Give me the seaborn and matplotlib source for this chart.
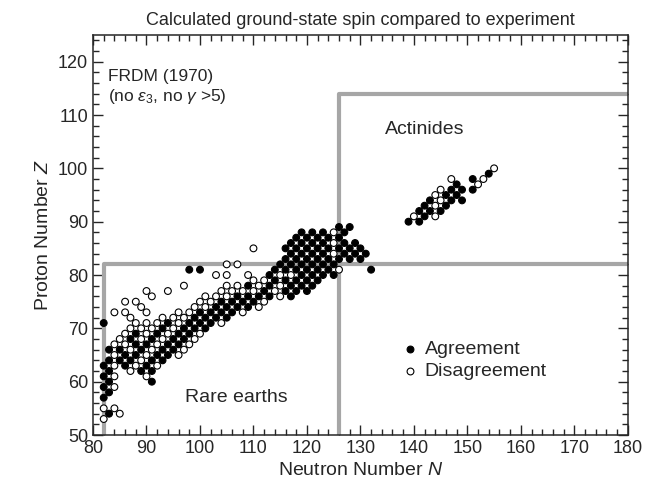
import matplotlib
matplotlib.use('Agg')
import matplotlib.pyplot as plt
import seaborn as sns
import pandas as pd
from matplotlib.ticker import MultipleLocator

# odd-A nuclei, one row of neutron numbers per proton number Z
# agreement (filled)
agree_rows = [
    (54, [83]),
    (57, [82]),
    (58, [83]),
    (59, [82]),
    (60, [83, 91]),
    (61, [82]),
    (62, [83, 89, 91]),
    (63, [82, 86, 90]),
    (64, [83, 85, 87, 91, 93]),
    (65, [86, 88, 92, 94]),
    (66, [83, 85, 89, 93, 95]),
    (67, [88, 90, 94, 96]),
    (68, [87, 91, 95, 97]),
    (69, [88, 92, 96, 98]),
    (70, [93, 97, 99, 101]),
    (71, [82, 94, 98, 100, 102]),
    (72, [99, 101, 103, 105]),
    (73, [100, 102, 104, 106]),
    (74, [103, 105, 107, 109]),
    (75, [104, 106, 108, 110]),
    (76, [107, 109, 111, 113, 117]),
    (77, [112, 116, 118, 120]),
    (78, [109, 113, 117, 119, 121]),
    (79, [114, 116, 118, 120, 122]),
    (80, [113, 119, 121, 123, 125]),
    (81, [98, 100, 114, 116, 118, 120, 122, 124, 132]),
    (82, [115, 117, 119, 121, 123, 125]),
    (83, [116, 118, 120, 122, 124, 126, 128, 130]),
    (84, [117, 119, 121, 123, 127, 129, 131]),
    (85, [116, 118, 120, 122, 124, 126, 128, 130]),
    (86, [117, 119, 121, 123, 127, 129]),
    (87, [118, 120, 122, 124, 126]),
    (88, [119, 121, 123, 127]),
    (89, [126, 128]),
    (90, [139, 141]),
    (91, [142]),
    (92, [141, 143, 145]),
    (93, [142, 146]),
    (94, [143, 147, 149]),
    (95, [146, 148]),
    (96, [147, 149, 151]),
    (97, [148]),
    (98, [151]),
    (99, [154]),
]
# disagreement (open)
disagree_rows = [
    (53, [82]),
    (54, [85]),
    (55, [82, 84]),
    (59, [84]),
    (61, [84, 90]),
    (62, [87]),
    (63, [84, 88, 92]),
    (64, [89]),
    (65, [84, 90, 96]),
    (66, [87, 91, 97]),
    (67, [84, 86, 92, 98]),
    (68, [85, 89, 93, 99]),
    (69, [86, 90, 94, 100]),
    (70, [87, 89, 91, 95]),
    (71, [88, 90, 92, 96, 104]),
    (72, [87, 93, 95, 97]),
    (73, [84, 86, 90, 96, 98, 108]),
    (74, [89, 99, 101, 111]),
    (75, [86, 88, 100, 102, 112]),
    (76, [91, 101, 103, 105, 115]),
    (77, [90, 94, 104, 106, 108, 110, 114]),
    (78, [97, 105, 107, 111, 115]),
    (79, [110, 112]),
    (80, [103, 105, 109, 115, 117]),
    (81, [126]),
    (82, [105, 107]),
    (84, [125]),
    (85, [110]),
    (86, [125]),
    (88, [125]),
    (91, [140, 144]),
    (93, [144]),
    (94, [145]),
    (95, [144]),
    (96, [145]),
    (97, [152]),
    (98, [147, 153]),
    (100, [155]),
]

legend_labels = ['Agreement', 'Disagreement']

rows = []
for kind, table in zip(legend_labels, [agree_rows, disagree_rows]):
    for z, ns in table:
        for n in ns:
            rows.append((n, z, kind))
df = pd.DataFrame(rows, columns=['N', 'Z', 'kind'])

sns.set_style('ticks')
plt.rcParams['font.family'] = ['Liberation Sans', 'DejaVu Sans']
plt.rcParams['mathtext.fontset'] = 'custom'
plt.rcParams['mathtext.rm'] = 'Liberation Sans'
plt.rcParams['mathtext.it'] = 'Liberation Sans:italic'

fig = plt.figure(figsize=(6.56, 4.94), dpi=100)
ax = fig.add_axes([0.1418, 0.1194, 0.8152, 0.8097])

gray = '#a6a6a6'
lw = 3.0
ax.plot([82, 82, 180], [50, 82, 82], color=gray, lw=lw, solid_capstyle='butt', zorder=1)
ax.plot([126, 126, 180], [50, 114, 114], color=gray, lw=lw, solid_capstyle='butt', zorder=1)

pal = {'Agreement': 'black', 'Disagreement': 'white'}
sns.scatterplot(data=df, x='N', y='Z', hue='kind', hue_order=legend_labels,
                palette=pal, edgecolor='black', linewidth=0.8, s=24,
                legend=False, ax=ax, zorder=3)

ax.set_xlim(80, 180)
ax.set_ylim(50, 125)
ax.xaxis.set_major_locator(MultipleLocator(10))
ax.xaxis.set_minor_locator(MultipleLocator(2))
ax.yaxis.set_major_locator(MultipleLocator(10))
ax.yaxis.set_minor_locator(MultipleLocator(2))
ax.tick_params(which='both', direction='in', top=True, right=True, labelsize=13, width=1)
ax.tick_params(which='major', length=7)
ax.tick_params(which='minor', length=4)
for sp in ax.spines.values():
    sp.set_linewidth(1.1)

ax.set_xlabel('Neutron Number $N$', fontsize=14)
ax.set_ylabel('Proton Number $Z$', fontsize=14)
ax.set_title('Calculated ground-state spin compared to experiment', fontsize=13, pad=7)

ax.text(82.8, 117.2, 'FRDM (1970)', fontsize=12.5, va='center')
ax.text(82.8, 113.4, r'(no $\varepsilon_3$, no $\gamma$ >5)', fontsize=12.5, va='center')
ax.text(134.6, 107.2, 'Actinides', fontsize=14, va='center')
ax.text(97.2, 57.1, 'Rare earths', fontsize=14, va='center')

# legend drawn in data space as in the original
ax.scatter([139.3], [66.1], s=24, color='black', edgecolor='black', linewidth=0.8)
ax.scatter([139.3], [62.0], s=24, color='white', edgecolor='black', linewidth=0.8)
ax.text(142.0, 66.1, legend_labels[0], fontsize=14, va='center')
ax.text(142.0, 62.0, legend_labels[1], fontsize=14, va='center')

fig.savefig('out.png', dpi=100)
